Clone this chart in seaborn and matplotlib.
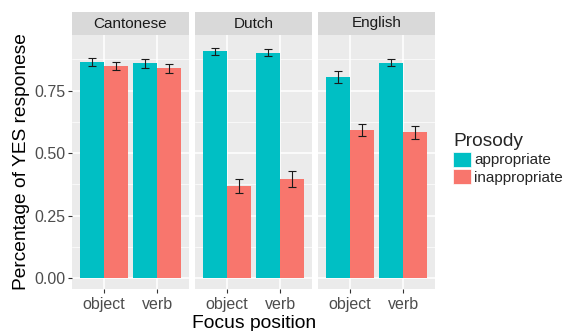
import pandas as pd
import matplotlib
matplotlib.use('Agg')
import matplotlib.pyplot as plt
from matplotlib.patches import Patch
import seaborn as sns

languages = ['Cantonese', 'Dutch', 'English']
positions = ['object', 'verb']
prosody = ['appropriate', 'inappropriate']

# values per language/position, order: Cantonese obj, verb, Dutch obj, verb, English obj, verb
appropriate_mean = [0.864, 0.859, 0.907, 0.902, 0.805, 0.862]
inappropriate_mean = [0.850, 0.839, 0.370, 0.397, 0.593, 0.583]
appropriate_se = [0.016, 0.017, 0.014, 0.014, 0.023, 0.014]
inappropriate_se = [0.016, 0.019, 0.028, 0.033, 0.025, 0.025]

colors = {'appropriate': '#00BFC4', 'inappropriate': '#F8766D'}

rows = []
for i, lang in enumerate(languages):
    for j, pos in enumerate(positions):
        k = i * 2 + j
        rows.append([lang, pos, 'appropriate', appropriate_mean[k], appropriate_se[k]])
        rows.append([lang, pos, 'inappropriate', inappropriate_mean[k], inappropriate_se[k]])
df = pd.DataFrame(rows, columns=['language', 'position', 'prosody', 'value', 'se'])

sns.set_style('darkgrid', {'axes.facecolor': '#EBEBEB', 'grid.color': 'white'})
plt.rcParams['font.family'] = ['Liberation Sans', 'DejaVu Sans']

W, H = 565, 331
fig = plt.figure(figsize=(W / 100, H / 100), dpi=100)

panel_left = [72, 195, 318]
panel_w = 117
panel_top, panel_bottom = 35, 289
strip_top = 12

for i, lang in enumerate(languages):
    x0 = panel_left[i]
    ax = fig.add_axes([x0 / W, (H - panel_bottom) / H, panel_w / W, (panel_bottom - panel_top) / H])
    sub = df[df['language'] == lang]
    sns.barplot(data=sub, x='position', y='value', hue='prosody', order=positions,
                hue_order=prosody, palette=colors, width=0.9, errorbar=None,
                legend=False, saturation=1, linewidth=0, ax=ax)
    # error bars from bar centres
    for h, lev in enumerate(prosody):
        bars = ax.patches[h * len(positions):(h + 1) * len(positions)]
        for bar, pos in zip(bars, positions):
            r = sub[(sub['position'] == pos) & (sub['prosody'] == lev)].iloc[0]
            ax.errorbar(bar.get_x() + bar.get_width() / 2, r['value'], yerr=r['se'],
                        fmt='none', ecolor='#1a1a1a', elinewidth=0.8, capsize=2.8,
                        capthick=0.8, zorder=5)
    ax.set_xlim(-0.6, 1.6)
    ax.set_ylim(-0.043, 0.973)
    ax.set_yticks([0, 0.25, 0.5, 0.75])
    ax.set_yticks([0.125, 0.375, 0.625, 0.875], minor=True)
    ax.grid(which='major', color='white', linewidth=1.1)
    ax.grid(which='minor', axis='y', color='white', linewidth=0.5)
    ax.set_axisbelow(True)
    for s in ax.spines.values():
        s.set_visible(False)
    ax.tick_params(axis='both', which='major', length=3, width=0.8, color='#333333',
                   labelcolor='#4D4D4D', labelsize=11.5, pad=2, bottom=True, left=True)
    ax.tick_params(axis='x', pad=3)
    ax.tick_params(which='minor', length=0)
    ax.set_xlabel('')
    ax.set_ylabel('')
    if i == 0:
        ax.set_yticklabels(['0.00', '0.25', '0.50', '0.75'])
        ax.set_ylabel('Percentage of YES responese', fontsize=13.8, color='black', labelpad=3)
    else:
        ax.tick_params(axis='y', left=False, labelleft=False)

    sax = fig.add_axes([x0 / W, (H - panel_top) / H, panel_w / W, (panel_top - strip_top) / H])
    sax.set_facecolor('#D9D9D9')
    sax.set_xticks([])
    sax.set_yticks([])
    for s in sax.spines.values():
        s.set_visible(False)
    sax.text(0.5, 0.5, lang, ha='center', va='center', fontsize=11, color='#1A1A1A',
             transform=sax.transAxes)

fig.text((72 + 436) / 2 / W, 1 - 323 / H, 'Focus position', ha='center', va='center',
         fontsize=13.9, color='black')

handles = [Patch(facecolor=colors[p], edgecolor='white', linewidth=0.5) for p in prosody]
leg = fig.legend(handles, prosody, title='Prosody', loc='upper left',
                 bbox_to_anchor=(453 / W, 1 - 133 / H), frameon=False, fontsize=11,
                 title_fontsize=13.8, handlelength=1.15, handleheight=1.15,
                 handletextpad=0.25, labelspacing=0.1, borderaxespad=0, borderpad=0)
leg._legend_box.align = 'left'

fig.savefig('out.png', dpi=100)
